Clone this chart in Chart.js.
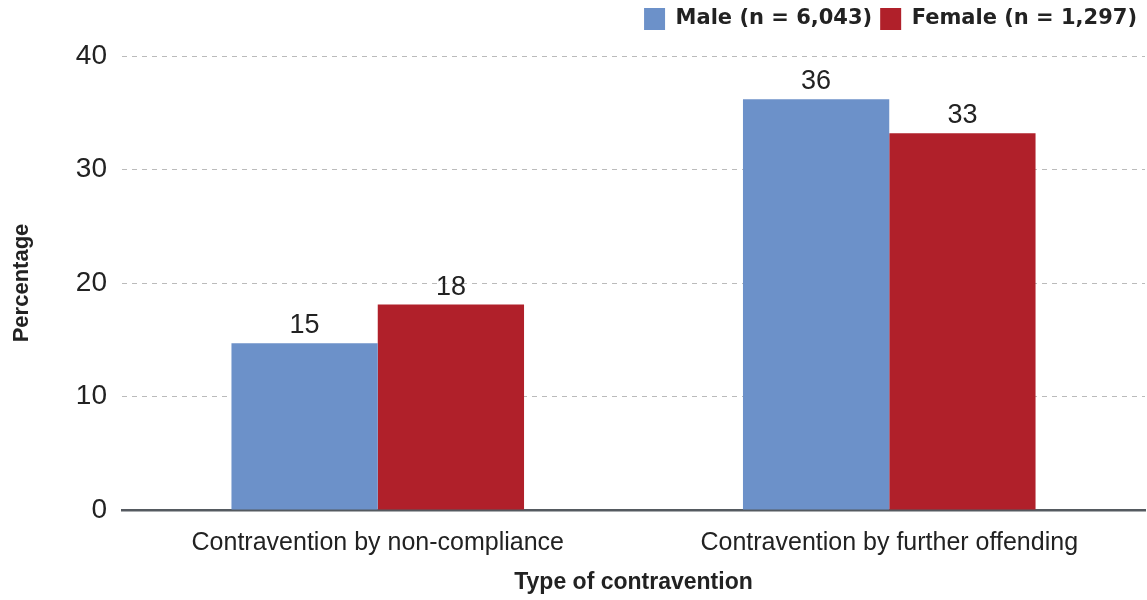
<!DOCTYPE html>
<html><head><meta charset="utf-8">
<script src="https://cdn.jsdelivr.net/npm/chart.js@4"></script>
<style>html,body{margin:0;padding:0;background:#fff}#wrap{width:1147px;height:600px}</style>
</head><body><div id="wrap"><canvas id="c"></canvas></div>
<script>
const categories = ["Contravention by non-compliance", "Contravention by further offending"];
const maleValues = [14.7, 36.2];
const femaleValues = [18.1, 33.2];
const seriesNames = ["Male (n = 6,043)", "Female (n = 1,297)"];
const yTicks = [0, 10, 20, 30, 40];

const FONT = '"Liberation Sans", Arial, sans-serif';

const legendHeightPlugin = {
  id: 'legendHeight',
  beforeInit(chart) {
    const lg = chart.legend;
    if (!lg) return;
    const orig = lg.fit;
    lg.fit = function () { orig.call(this); this.height = 56; };
  }
};

const labelPlugin = {
  id: 'barLabels',
  afterDatasetsDraw(chart) {
    const ctx = chart.ctx;
    ctx.save();
    ctx.font = '27px ' + FONT;
    ctx.fillStyle = '#222';
    ctx.textAlign = 'center';
    ctx.textBaseline = 'alphabetic';
    chart.data.datasets.forEach((ds, i) => {
      chart.getDatasetMeta(i).data.forEach((bar, j) => {
        ctx.fillText(Math.round(ds.data[j]), bar.x, bar.y - 10);
      });
    });
    ctx.restore();
  }
};

new Chart(document.getElementById('c'), {
  type: 'bar',
  data: {
    labels: categories,
    datasets: [
      { label: seriesNames[0], data: maleValues, backgroundColor: '#6c91c9' },
      { label: seriesNames[1], data: femaleValues, backgroundColor: '#b0202a' }
    ]
  },
  options: {
    responsive: true, maintainAspectRatio: false, animation: false,
    layout: { padding: { left: 0, right: 2, top: 0, bottom: 0 } },
    datasets: { bar: { barPercentage: 1.0, categoryPercentage: 0.572 } },
    plugins: {
      legend: {
        position: 'top', align: 'end',
        labels: {
          boxWidth: 21, boxHeight: 22, padding: 8,
          color: '#222',
          font: { family: '"DejaVu Sans", sans-serif', size: 21, weight: 'bold' }
        }
      },
      tooltip: { enabled: false }
    },
    scales: {
      x: {
        afterFit(axis) { axis.height = 90; },
        grid: { display: false },
        border: { display: true, color: '#555a60', width: 2.5 },
        ticks: { color: '#222', padding: 10, font: { family: FONT, size: 25 } },
        title: { display: true, text: 'Type of contravention', color: '#222', padding: { top: 7, bottom: 4 },
          font: { family: FONT, size: 23, weight: 'bold' } }
      },
      y: {
        min: 0, max: 40,
        afterFit(axis) { axis.width = 122; },
        afterBuildTicks(axis) { axis.ticks = yTicks.map(v => ({ value: v })); },
        grid: { color: '#bbbbbb', lineWidth: 1, drawTicks: false },
        border: { display: false, dash: [5, 5] },
        ticks: { color: '#222', padding: 15, font: { family: FONT, size: 28 } },
        title: { display: true, text: 'Percentage', color: '#222', padding: { top: 9, bottom: 0 },
          font: { family: FONT, size: 22, weight: 'bold' } }
      }
    }
  },
  plugins: [legendHeightPlugin, labelPlugin]
});
</script></body></html>
